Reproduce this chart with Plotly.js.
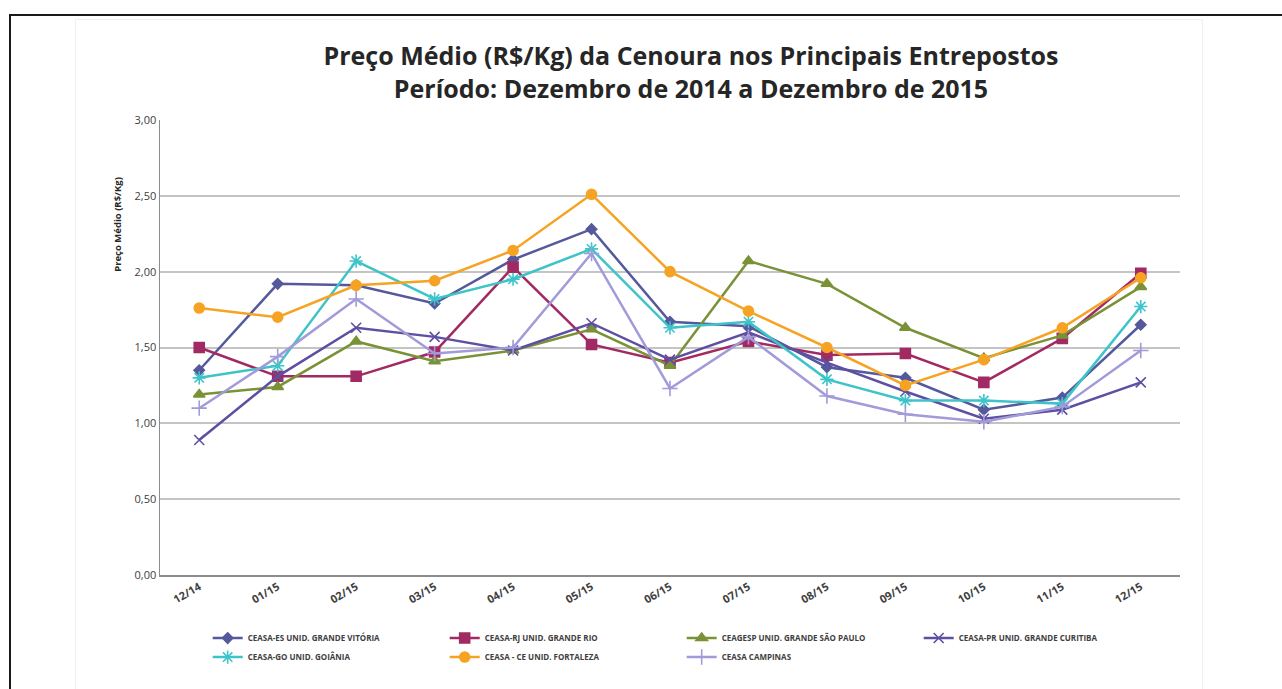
<!DOCTYPE html>
<html>
<head>
<meta charset="utf-8">
<script src="https://cdn.plot.ly/plotly-3.0.1.min.js"></script>
<style>
html,body{margin:0;padding:0;background:#fff;overflow:hidden;}
#frame{position:absolute;left:9px;top:14px;width:1290px;height:700px;border:2px solid #1a1a1a;box-sizing:border-box;}
#inner{position:absolute;left:75px;top:19px;width:1128px;height:680px;border:1px solid #f0f0f0;box-sizing:border-box;}
#chart{position:absolute;left:0;top:0;width:1282px;height:689px;}
</style>
</head>
<body>
<div id="frame"></div>
<div id="inner"></div>
<div id="chart"></div>
<script>
const months = ["12/14","01/15","02/15","03/15","04/15","05/15","06/15","07/15","08/15","09/15","10/15","11/15","12/15"];
const yTicks = [0, 0.5, 1, 1.5, 2, 2.5, 3];
const yTickLabels = ["0,00","0,50","1,00","1,50","2,00","2,50","3,00"];

const seriesNames = [
  "CEASA-ES UNID. GRANDE VITÓRIA",
  "CEASA-RJ UNID. GRANDE RIO",
  "CEAGESP UNID. GRANDE SÃO PAULO",
  "CEASA-PR UNID. GRANDE CURITIBA",
  "CEASA-GO UNID. GOIÂNIA",
  "CEASA - CE UNID. FORTALEZA",
  "CEASA CAMPINAS"
];
const ceasaES   = [1.35, 1.92, 1.91, 1.79, 2.08, 2.28, 1.67, 1.64, 1.37, 1.30, 1.09, 1.17, 1.65];
const ceasaRJ   = [1.50, 1.31, 1.31, 1.47, 2.03, 1.52, 1.40, 1.54, 1.45, 1.46, 1.27, 1.56, 1.99];
const ceagespSP = [1.19, 1.24, 1.54, 1.41, 1.48, 1.62, 1.38, 2.07, 1.92, 1.63, 1.43, 1.58, 1.90];
const ceasaPR   = [0.89, 1.31, 1.63, 1.57, 1.48, 1.66, 1.42, 1.60, 1.40, 1.21, 1.03, 1.09, 1.27];
const ceasaGO   = [1.30, 1.38, 2.07, 1.82, 1.95, 2.15, 1.63, 1.67, 1.29, 1.15, 1.15, 1.13, 1.77];
const ceasaCE   = [1.76, 1.70, 1.91, 1.94, 2.14, 2.51, 2.00, 1.74, 1.50, 1.25, 1.42, 1.63, 1.96];
const campinas  = [1.10, 1.44, 1.82, 1.46, 1.50, 2.12, 1.23, 1.57, 1.18, 1.06, 1.01, 1.11, 1.48];

const seriesValues = [ceasaES, ceasaRJ, ceagespSP, ceasaPR, ceasaGO, ceasaCE, campinas];
const colors = ["#55599C", "#A22A63", "#7A9236", "#5E4FA2", "#3CC4C9", "#F6A323", "#A19BDA"];
const symbols = ["diamond", "square", "triangle-up", "x-thin-open", "asterisk-open", "circle", "cross-thin-open"];
const sizes = [8, 10, 10, 10, 11, 10, 11];

const traces = seriesNames.map((n, i) => ({
  x: months,
  y: seriesValues[i],
  name: n,
  type: "scatter",
  mode: "lines+markers",
  line: {color: colors[i], width: 2.5},
  marker: {symbol: symbols[i], size: sizes[i], color: colors[i], line: {color: colors[i], width: 1.6}}
}));

const layout = {
  width: 1282, height: 689,
  paper_bgcolor: "rgba(0,0,0,0)",
  plot_bgcolor: "#fff",
  margin: {l: 160, r: 102, t: 120, b: 114},
  font: {family: "Open Sans, Liberation Sans, sans-serif", color: "#404040"},
  title: {
    text: "<b>Preço Médio (R$/Kg) da Cenoura nos Principais Entrepostos<br>Período: Dezembro de 2014 a Dezembro de 2015</b>",
    font: {size: 25, color: "#262626", family: "Open Sans, sans-serif"},
    x: 0.539, xanchor: "center", y: 0.905, yanchor: "top"
  },
  xaxis: {
    type: "category",
    range: [-0.5, 12.5],
    showgrid: false,
    showline: true, linecolor: "#8c8c8c", linewidth: 1.5,
    ticks: "", tickangle: -30,
    tickfont: {size: 11, color: "#404040", family: "Open Sans, sans-serif", weight: "bold"},
    fixedrange: true
  },
  yaxis: {
    range: [0, 3],
    tickvals: yTicks, ticktext: yTickLabels,
    showgrid: true, gridcolor: "#c4c4c4", gridwidth: 2,
    zeroline: false,
    showline: true, linecolor: "#8c8c8c", linewidth: 1.5,
    ticks: "", ticklen: 4,
    tickfont: {size: 11, color: "#404040", family: "Open Sans, sans-serif"},
    fixedrange: true
  },
  annotations: [{
    text: "<b>Preço Médio (R$/Kg)</b>",
    xref: "paper", yref: "paper",
    x: -0.042, y: 0.77, xanchor: "center", yanchor: "middle",
    textangle: -90, showarrow: false,
    font: {size: 9.5, color: "#262626", family: "Open Sans, sans-serif"}
  }],
  legend: {
    orientation: "h",
    xref: "container", yref: "container",
    x: 0.162, xanchor: "left",
    y: 0.095, yanchor: "top",
    entrywidth: 192, entrywidthmode: "pixels",
    tracegroupgap: 0,
    font: {size: 8, color: "#404040", family: "Open Sans, sans-serif", weight: "bold"},
    bgcolor: "rgba(0,0,0,0)"
  },
  showlegend: true
};

Plotly.newPlot("chart", traces, layout, {displayModeBar: false, staticPlot: true});
</script>
</body>
</html>
